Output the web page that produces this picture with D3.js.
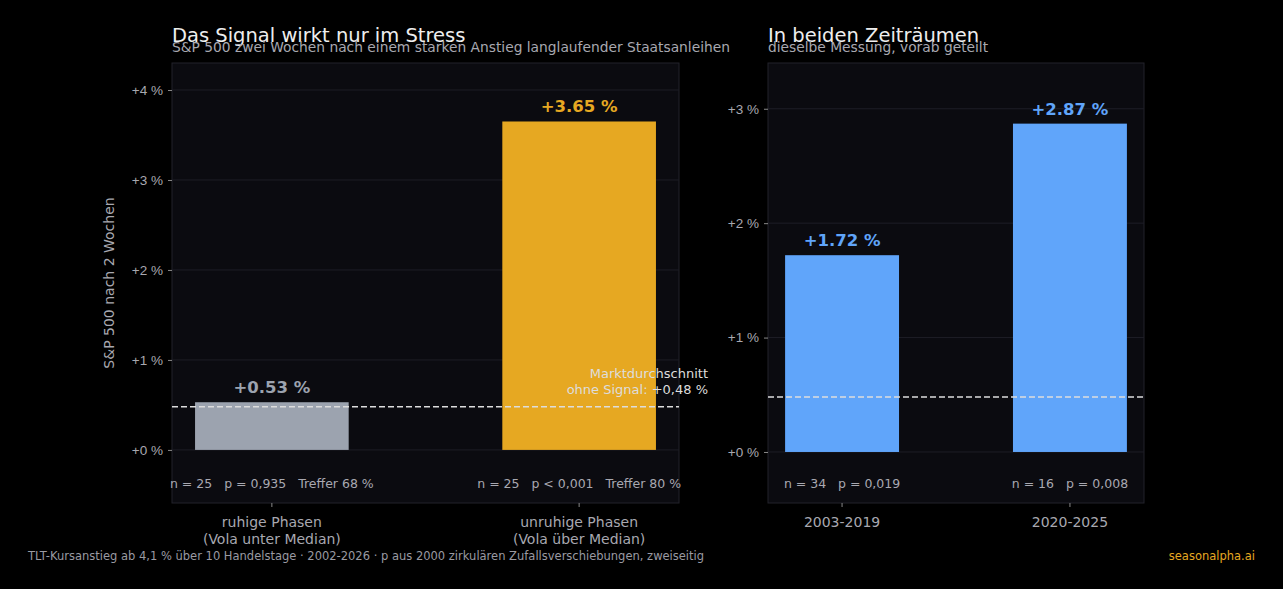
<!DOCTYPE html>
<html><head><meta charset="utf-8">
<script src="https://cdn.jsdelivr.net/npm/d3@7"></script>
<style>body{margin:0;background:#000}svg{display:block;font-family:"DejaVu Sans",sans-serif}text{white-space:pre}</style>
</head><body><svg id="c" width="1283" height="589"></svg>
<script>
const leftCats = ["ruhige Phasen\n(Vola unter Median)", "unruhige Phasen\n(Vola über Median)"];
const leftVals = [0.53, 3.65];
const leftColors = ["#9ca3af", "#e6a822"];
const leftNotes = ["n = 25   p = 0,935   Treffer 68 %", "n = 25   p < 0,001   Treffer 80 %"];
const leftTicks = [0, 1, 2, 3, 4];
const rightCats = ["2003-2019", "2020-2025"];
const rightVals = [1.72, 2.87];
const rightNotes = ["n = 34   p = 0,019", "n = 16   p = 0,008"];
const rightTicks = [0, 1, 2, 3];
const baseline = 0.48;

const svg = d3.select("#c");
const fmt = v => "+" + v.toFixed(2) + " %";

function panel(o) {
  const {x0, x1, y0, y1, dom, cats, vals, colors, notes, ticks, title, sub} = o;
  const x = d3.scaleBand().domain(cats).range([x0, x1]).paddingInner(0.5).paddingOuter(0.075);
  const y = d3.scaleLinear().domain(dom).range([y1, y0]);
  const g = svg.append("g");
  g.append("rect").attr("x", x0).attr("y", y0).attr("width", x1 - x0).attr("height", y1 - y0)
    .attr("fill", "#0b0b10").attr("stroke", "#23232b");
  g.selectAll(".gl").data(ticks).join("line").attr("x1", x0).attr("x2", x1)
    .attr("y1", d => y(d)).attr("y2", d => y(d)).attr("stroke", "#1e1e26");
  const ya = g.append("g").attr("transform", `translate(${x0},0)`)
    .call(d3.axisLeft(y).tickValues(ticks).tickSize(4).tickFormat(d => "+" + d + " %"));
  ya.select(".domain").remove();
  ya.selectAll("line").attr("stroke", "#888");
  ya.selectAll("text").attr("fill", "#a8a8b0").attr("font-size", 13.5).attr("dx", -2);
  const xa = g.append("g").attr("transform", `translate(0,${y1})`).call(d3.axisBottom(x).tickSize(4).tickFormat(""));
  xa.select(".domain").remove();
  xa.selectAll("line").attr("stroke", "#888");
  cats.forEach(c => {
    const cx = x(c) + x.bandwidth() / 2;
    const t = g.append("text").attr("x", cx).attr("y", y1 + 24)
      .attr("text-anchor", "middle").attr("fill", "#a8a8b0").attr("font-size", 14);
    c.split("\n").forEach((s, j) => t.append("tspan").attr("x", cx).attr("dy", j ? 17 : 0).text(s));
  });
  g.selectAll(".bar").data(vals).join("rect")
    .attr("x", (d, i) => x(cats[i])).attr("width", x.bandwidth())
    .attr("y", d => y(d)).attr("height", d => y(0) - y(d)).attr("fill", (d, i) => colors[i]);
  g.selectAll(".vl").data(vals).join("text")
    .attr("x", (d, i) => x(cats[i]) + x.bandwidth() / 2).attr("y", d => y(d) - 9)
    .attr("text-anchor", "middle").attr("font-weight", "bold").attr("font-size", 16.5)
    .attr("fill", (d, i) => colors[i]).text(fmt);
  g.append("line").attr("x1", x0).attr("x2", x1).attr("y1", y(baseline)).attr("y2", y(baseline))
    .attr("stroke", "#ddd").attr("stroke-width", 1.5).attr("stroke-dasharray", "6,3");
  g.selectAll(".nt").data(notes).join("text")
    .attr("x", (d, i) => x(cats[i]) + x.bandwidth() / 2).attr("y", y1 - 15)
    .attr("text-anchor", "middle").attr("fill", "#a8a8b0").attr("font-size", 12.5).text(d => d);
  g.append("text").attr("x", x0).attr("y", 42).attr("fill", "#eee").attr("font-size", 19.5).text(title);
  g.append("text").attr("x", x0).attr("y", 52).attr("fill", "#a8a8b0").attr("font-size", 13.8).text(sub);
  return {x, y, g};
}

const L = panel({x0: 172, x1: 679, y0: 63, y1: 503, dom: [-0.59, 4.3], cats: leftCats, vals: leftVals,
  colors: leftColors, notes: leftNotes, ticks: leftTicks,
  title: "Das Signal wirkt nur im Stress",
  sub: "S&P 500 zwei Wochen nach einem starken Anstieg langlaufender Staatsanleihen"});
L.g.append("text").attr("transform", "translate(114,283) rotate(-90)").attr("text-anchor", "middle")
  .attr("fill", "#a8a8b0").attr("font-size", 14).text("S&P 500 nach 2 Wochen");
L.g.append("text").attr("x", 708).attr("y", L.y(baseline) - 29).attr("text-anchor", "end")
  .attr("fill", "#ddd").attr("font-size", 13).text("Marktdurchschnitt");
L.g.append("text").attr("x", 708).attr("y", L.y(baseline) - 13).attr("text-anchor", "end")
  .attr("fill", "#ddd").attr("font-size", 13).text("ohne Signal: +0,48 %");

panel({x0: 768, x1: 1144, y0: 63, y1: 503, dom: [-0.446, 3.4], cats: rightCats, vals: rightVals,
  colors: ["#60a5fa", "#60a5fa"], notes: rightNotes, ticks: rightTicks,
  title: "In beiden Zeiträumen", sub: "dieselbe Messung, vorab geteilt"});

svg.append("text").attr("x", 28).attr("y", 560).attr("fill", "#9a9aa2").attr("font-size", 11.5)
  .text("TLT-Kursanstieg ab 4,1 % über 10 Handelstage · 2002-2026 · p aus 2000 zirkulären Zufallsverschiebungen, zweiseitig");
svg.append("text").attr("x", 1255).attr("y", 560).attr("text-anchor", "end").attr("fill", "#e6a822")
  .attr("font-size", 11.5).text("seasonalpha.ai");
</script></body></html>
